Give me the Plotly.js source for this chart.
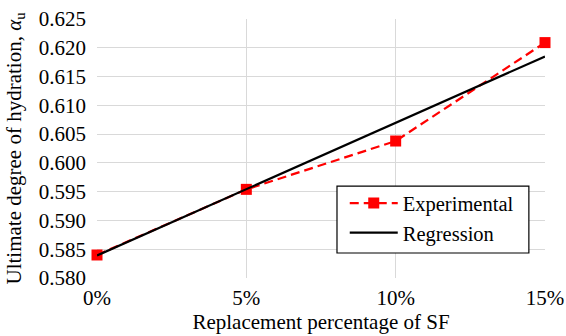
<!DOCTYPE html>
<html><head><meta charset="utf-8">
<script src="https://cdn.plot.ly/plotly-3.0.1.min.js"></script>
<style>html,body{margin:0;padding:0;background:#fff}</style>
</head><body>
<div id="chart" style="width:566px;height:336px"></div>
<script>
const replacement = [0, 0.05, 0.10, 0.15];
const tickLabels = ['0%', '5%', '10%', '15%'];
const experimental = [0.584, 0.5954, 0.6038, 0.6209];
const regression = [0.5839, 0.5954, 0.6070, 0.6185];

const font = '"Liberation Serif", "Times New Roman", serif';
const traces = [
  {x: replacement, y: experimental, name: 'Experimental', mode: 'lines+markers', type: 'scatter', cliponaxis: false,
   line: {color: '#ff0000', width: 2.25, dash: '9px,5px'}, marker: {symbol: 'square', size: 11, color: '#ff0000'}},
  {x: replacement, y: regression, name: 'Regression', mode: 'lines', type: 'scatter', cliponaxis: false,
   line: {color: '#000000', width: 2.25}}
];
const layout = {
  width: 566, height: 336,
  margin: {l: 97, r: 21, t: 19, b: 58},
  paper_bgcolor: '#fff', plot_bgcolor: '#fff',
  font: {family: font, size: 21, color: '#000'},
  showlegend: true,
  legend: {x: 0.553, y: 0.366, xanchor: 'left', yanchor: 'top', bgcolor: 'rgba(0,0,0,0)',
    borderwidth: 0, font: {family: font, size: 20.5, color: '#000'}, tracegroupgap: 0, itemwidth: 48},
  shapes: [{type: 'rect', xref: 'paper', yref: 'paper', x0: 0.5357, x1: 0.964, y0: 0.0965, y1: 0.355,
    line: {color: '#000', width: 1.2}, fillcolor: '#fff', layer: 'above'}],
  xaxis: {range: [0, 0.15], tickvals: replacement, ticktext: tickLabels,
    tickfont: {family: font, size: 21, color: '#000'}, ticklabelstandoff: 5,
    showgrid: true, gridcolor: '#d9d9d9', gridwidth: 1, zeroline: false, showline: false,
    ticks: '', title: {text: 'Replacement percentage of SF', font: {family: font, size: 21, color: '#000'}, standoff: 5}},
  yaxis: {range: [0.580, 0.625], dtick: 0.005, tickformat: '.3f',
    tickfont: {family: font, size: 21, color: '#000'},
    showgrid: true, gridcolor: '#d9d9d9', gridwidth: 1, zeroline: false, showline: false,
    ticks: '', ticklabelstandoff: 10,
    title: {text: 'Ultimate degree of hydration, <i>α</i><sub>u</sub>', font: {family: font, size: 21, color: '#000'}, standoff: 11}}
};
Plotly.newPlot('chart', traces, layout, {staticPlot: true, displayModeBar: false});
</script>
</body></html>
